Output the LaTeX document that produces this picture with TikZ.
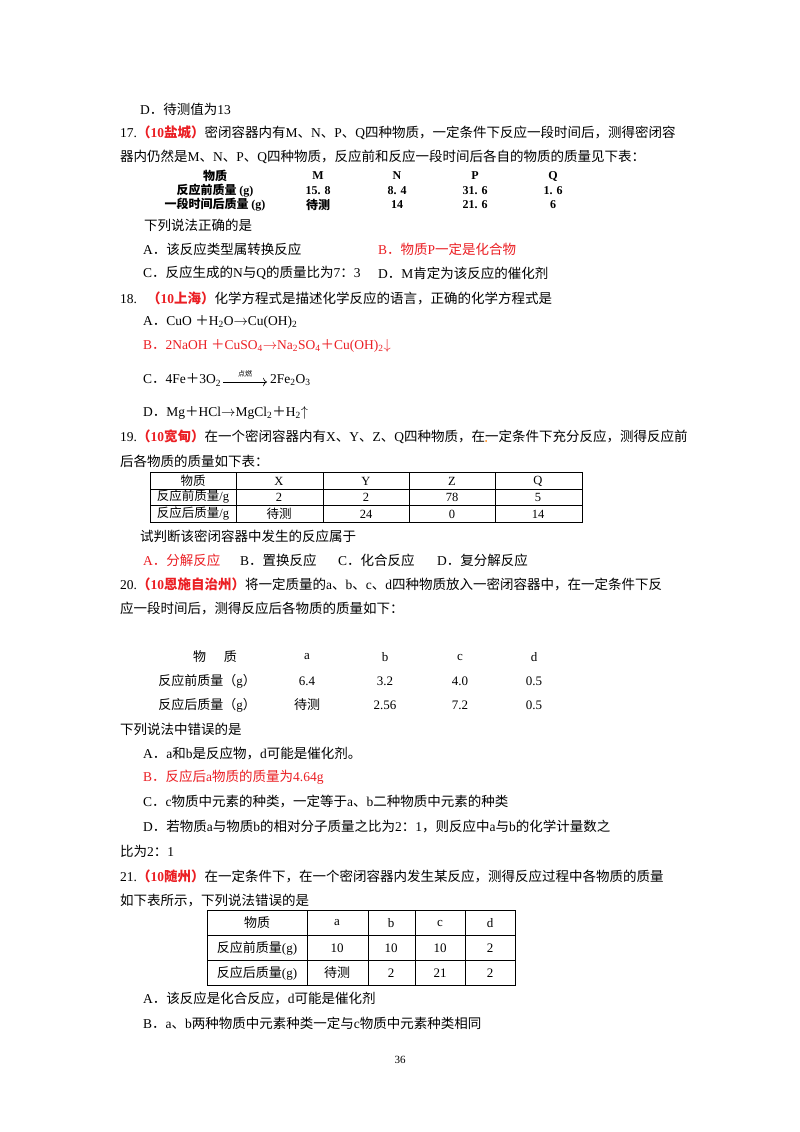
\documentclass[tikz,border=0pt]{standalone}
\usepackage{fontspec}
\usetikzlibrary{arrows.meta}
\setmainfont{Liberation Serif}
\newfontfamily\cjkf{Noto Sans CJK SC}
\XeTeXinterchartokenstate=1
\newXeTeXintercharclass\cjkclass
\count255="4E00 \loop\XeTeXcharclass\count255=\cjkclass\ifnum\count255<"9FFF\advance\count255 1 \repeat
\count255="3000 \loop\XeTeXcharclass\count255=\cjkclass\ifnum\count255<"303F\advance\count255 1 \repeat
\count255="FF00 \loop\XeTeXcharclass\count255=\cjkclass\ifnum\count255<"FFEF\advance\count255 1 \repeat
\XeTeXinterchartoks 0 \cjkclass={\cjkf}
\XeTeXinterchartoks 4095 \cjkclass={\cjkf}
\XeTeXinterchartoks \cjkclass 0={\rmfamily}
\XeTeXinterchartoks 4095 0={\rmfamily}
\definecolor{ansred}{RGB}{235,30,35}
\newcommand{\chsub}[1]{\textsubscript{#1}}
\begin{document}
\begin{tikzpicture}[x=1pt,y=-1pt,
  txt/.style={anchor=west,inner sep=0pt,font=\fontsize{13.5}{16}\selectfont},
  ctr/.style={anchor=center,inner sep=0pt,font=\fontsize{13}{15}\selectfont},
  tsm/.style={anchor=center,inner sep=0pt,font=\fontsize{12.5}{14}\selectfont},
  ans/.style={text=ansred},
  rule/.style={line width=0.9pt}]
\useasboundingbox[fill=white] (0,0) rectangle (800,1132);
\node[txt] (d16) at (140,109) {D．待测值为13};
\node[txt] (q17a) at (120,133) {17.{\color{ansred}\bfseries（10盐城）}密闭容器内有M、N、P、Q四种物质，一定条件下反应一段时间后，测得密闭容};
\node[txt] (q17b) at (120,157) {器内仍然是M、N、P、Q四种物质，反应前和反应一段时间后各自的物质的质量见下表：};
\begin{scope}[every node/.style={tsm,font=\fontsize{12}{14}\selectfont\bfseries}]
\node (h0) at (215,176) {物质};
\node (h1) at (318,176) {M}; \node (h2) at (397,176) {N}; \node (h3) at (475,176) {P}; \node (h4) at (553,176) {Q};
\node (r10) at (215,191) {反应前质量 (g)};
\node (r11) at (318,191) {15. 8}; \node (r12) at (397,191) {8. 4}; \node (r13) at (475,191) {31. 6}; \node (r14) at (553,191) {1. 6};
\node (r20) at (215,205) {一段时间后质量 (g)};
\node (r21) at (318,205) {待测}; \node (r22) at (397,205) {14}; \node (r23) at (475,205) {21. 6}; \node (r24) at (553,205) {6};
\end{scope}
\node[txt] (q17c) at (144,225) {下列说法正确的是};
\node[txt] (o17a) at (143,249) {A．该反应类型属转换反应};
\node[txt,ans] (o17b) at (378,249) {B．物质P一定是化合物};
\node[txt] (o17c) at (143,273) {C．反应生成的N与Q的质量比为7：3};
\node[txt] (o17d) at (378,273) {D．M肯定为该反应的催化剂};
\node[txt] (q18) at (120,298) {18.\hspace{10pt}{\color{ansred}\bfseries（10上海）}化学方程式是描述化学反应的语言，正确的化学方程式是};
\node[txt] (o18a) at (143,322) {A．CuO ＋H\chsub{2}O$\rightarrow$Cu(OH)\chsub{2}};
\node[txt,ans] (o18b) at (143,346) {B．2NaOH ＋CuSO\chsub{4}$\rightarrow$Na\chsub{2}SO\chsub{4}＋Cu(OH)\chsub{2}$\downarrow$};
\node[txt] (o18c) at (143,380) {C．4Fe＋3O\chsub{2}};
\coordinate (arrS) at (223,382);
\coordinate (arrE) at (267,382);
\draw[-{To[length=4pt]},line width=0.6pt] (arrS) -- (arrE) node[midway,above=1pt,font=\fontsize{7}{8}\selectfont] {点燃};
\node[txt] (o18c2) at (270,380) {2Fe\chsub{2}O\chsub{3}};
\node[txt] (o18d) at (143,413) {D．Mg＋HCl$\rightarrow$MgCl\chsub{2}＋H\chsub{2}$\uparrow$};
\node[txt] (q19a) at (120,437) {19.{\color{ansred}\bfseries（10宽甸）}在一个密闭容器内有X、Y、Z、Q四种物质，在一定条件下充分反应，测得反应前};
\fill[orange] (486,441) circle (1pt);
\node[txt] (q19b) at (120,461) {后各物质的质量如下表：};
\draw[rule] (150,472) rectangle (582,522);
\foreach \x in {236,323,409,495} \draw[rule] (\x,472) -- (\x,522);
\foreach \y in {489,505} \draw[rule] (150,\y) -- (582,\y);
\begin{scope}[every node/.style={tsm}]
\node at (193,481) {物质}; \node at (279,481) {X}; \node at (366,481) {Y}; \node at (452,481) {Z}; \node at (538,481) {Q};
\node at (193,497) {反应前质量/g}; \node at (279,497) {2}; \node at (366,497) {2}; \node at (452,497) {78}; \node at (538,497) {5};
\node at (193,514) {反应后质量/g}; \node at (279,514) {待测}; \node at (366,514) {24}; \node at (452,514) {0}; \node at (538,514) {14};
\end{scope}
\node[txt] (q19c) at (140,536) {试判断该密闭容器中发生的反应属于};
\node[txt,ans] (o19a) at (143,560) {A．分解反应};
\node[txt] (o19b) at (240,560) {B．置换反应};
\node[txt] (o19c) at (338,560) {C．化合反应};
\node[txt] (o19d) at (437,560) {D．复分解反应};
\node[txt] (q20a) at (120,584) {20.{\color{ansred}\bfseries（10恩施自治州）}将一定质量的a、b、c、d四种物质放入一密闭容器中，在一定条件下反};
\node[txt] (q20b) at (120,608) {应一段时间后，测得反应后各物质的质量如下：};
\begin{scope}[every node/.style={ctr}]
\node at (215,657) {物\hspace{18pt}质}; \node at (307,657) {a}; \node at (385,657) {b}; \node at (460,657) {c}; \node at (534,657) {d};
\node at (207,681) {反应前质量（g）}; \node at (307,681) {6.4}; \node at (385,681) {3.2}; \node at (460,681) {4.0}; \node at (534,681) {0.5};
\node at (207,705) {反应后质量（g）}; \node at (307,705) {待测}; \node at (385,705) {2.56}; \node at (460,705) {7.2}; \node at (534,705) {0.5};
\end{scope}
\node[txt] (q20c) at (120,729) {下列说法中错误的是};
\node[txt] (o20a) at (143,753) {A．a和b是反应物，d可能是催化剂。};
\node[txt,ans] (o20b) at (143,777) {B．反应后a物质的质量为4.64g};
\node[txt] (o20c) at (143,801) {C．c物质中元素的种类，一定等于a、b二种物质中元素的种类};
\node[txt] (o20d) at (143,826) {D．若物质a与物质b的相对分子质量之比为2：1，则反应中a与b的化学计量数之};
\node[txt] (o20e) at (120,851) {比为2：1};
\node[txt] (q21a) at (120,876) {21.{\color{ansred}\bfseries（10随州）}在一定条件下，在一个密闭容器内发生某反应，测得反应过程中各物质的质量};
\node[txt] (q21b) at (120,901) {如下表所示，下列说法错误的是};
\draw[rule] (207,910) rectangle (515,985);
\foreach \x in {307,368,415,465} \draw[rule] (\x,910) -- (\x,985);
\foreach \y in {935,960} \draw[rule] (207,\y) -- (515,\y);
\begin{scope}[every node/.style={ctr}]
\node at (257,923) {物质}; \node at (337,923) {a}; \node at (391,923) {b}; \node at (440,923) {c}; \node at (490,923) {d};
\node at (257,948) {反应前质量(g)}; \node at (337,948) {10}; \node at (391,948) {10}; \node at (440,948) {10}; \node at (490,948) {2};
\node at (257,973) {反应后质量(g)}; \node at (337,973) {待测}; \node at (391,973) {2}; \node at (440,973) {21}; \node at (490,973) {2};
\end{scope}
\node[txt] (o21a) at (143,998) {A．该反应是化合反应，d可能是催化剂};
\node[txt] (o21b) at (143,1023) {B．a、b两种物质中元素种类一定与c物质中元素种类相同};
\node[ctr,font=\fontsize{11}{13}\selectfont] (pg) at (400,1060) {36};
\end{tikzpicture}
\end{document}
